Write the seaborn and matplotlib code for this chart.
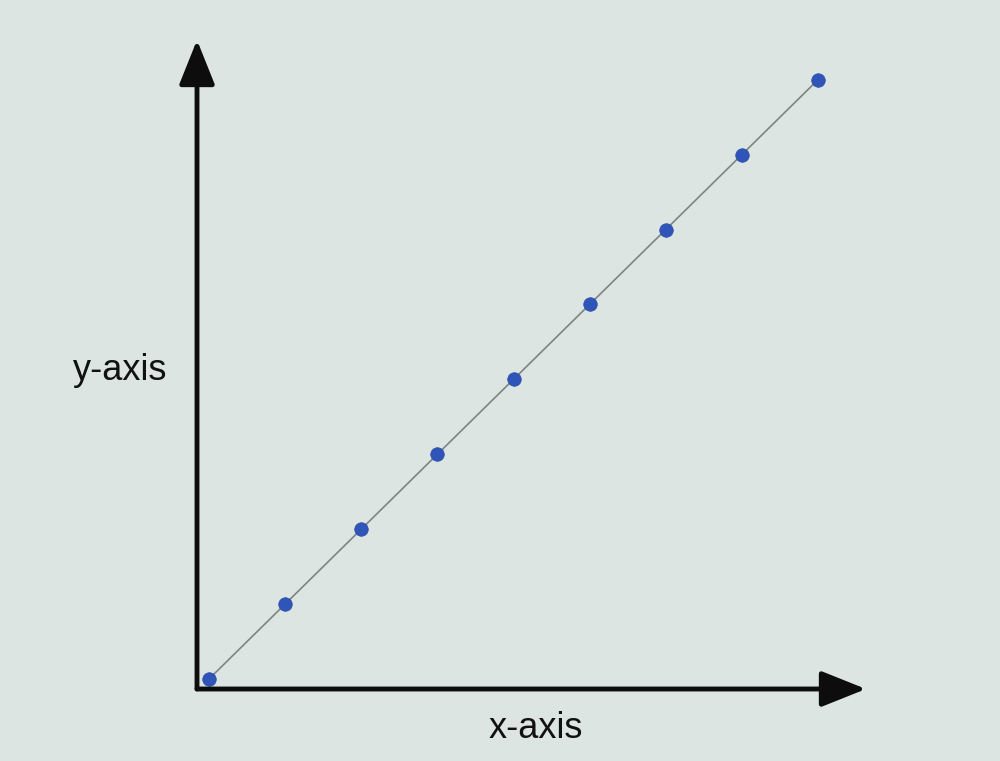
import matplotlib
matplotlib.use("Agg")
import matplotlib.pyplot as plt
import seaborn as sns
import pandas as pd

x_values = [0, 1, 2, 3, 4, 5, 6, 7, 8]
y_values = [0, 1, 2, 3, 4, 5, 6, 7, 8]
x_label = "x-axis"
y_label = "y-axis"

sns.set_style("white")
plt.rcParams['font.family'] = ['Liberation Sans', 'DejaVu Sans']

bg = "#dce5e2"
df = pd.DataFrame({"x": x_values, "y": y_values})

fig = plt.figure(figsize=(10, 7.61), dpi=100, facecolor=bg)
ax = fig.add_axes([0.197, 1 - 689 / 761, 0.866 - 0.197, (689 - 40) / 761])
ax.set_facecolor(bg)

sns.lineplot(data=df, x="x", y="y", ax=ax, color="#7d8582", linewidth=1.2, zorder=2)
sns.scatterplot(data=df, x="x", y="y", ax=ax, color="#2f55b8", s=95, edgecolor="#2a4aa8",
                linewidth=0.5, zorder=3)

ax.set_xlim(-0.158, 8.63)
ax.set_ylim(-0.134, 8.53)
for s in ax.spines.values():
    s.set_visible(False)
ax.set_xticks([])
ax.set_yticks([])
ax.set_xlabel("")
ax.set_ylabel("")

arrow = dict(arrowstyle="-|>,head_length=1.25,head_width=0.5", color="#0d0d0d", lw=3.5,
             mutation_scale=22, shrinkA=0, shrinkB=0)
ax.annotate("", xy=(0, 1), xytext=(0, 0), xycoords="axes fraction", arrowprops=arrow)
ax.annotate("", xy=(1, 0), xytext=(0, 0), xycoords="axes fraction", arrowprops=arrow)

fig.text(0.120, 1 - 370 / 761, y_label, fontsize=26, color="#111111", ha="center", va="center")
fig.text(0.536, 1 - 729 / 761, x_label, fontsize=26, color="#111111", ha="center", va="center")

fig.savefig("out.png", dpi=100, facecolor=bg)
